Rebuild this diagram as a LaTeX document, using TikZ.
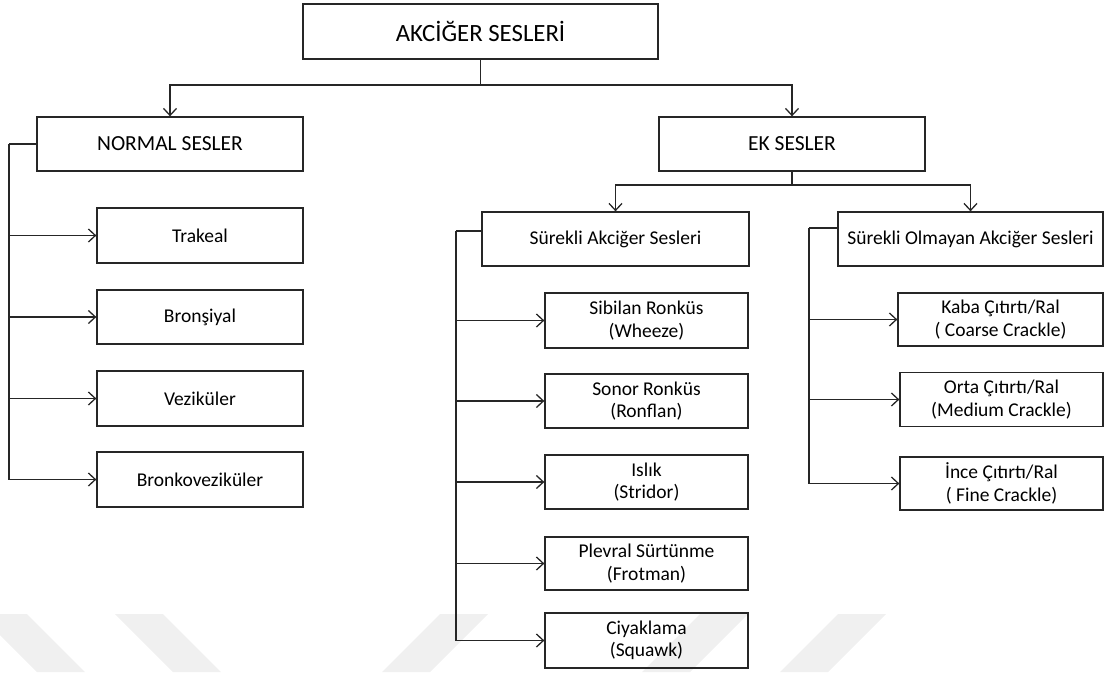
\documentclass[tikz,border=0pt]{standalone}
\usepackage{fontspec}
\setmainfont{Carlito}
\usetikzlibrary{arrows.meta}
\begin{document}
\begin{tikzpicture}[x=1pt,y=-1pt,
  box/.style={draw=black!85,line width=1.3pt,inner sep=0pt,align=center,
    font=\fontsize{19.5}{22.5}\selectfont},
  conn/.style={draw=black!85,line width=1.5pt},
  arr/.style={conn,-{Straight Barb[length=7pt,width=13pt,line width=1.3pt]}},
  wm/.style={fill=black!6,draw=none}]
\useasboundingbox (0,0) rectangle (1105,672);
% faint watermark
\fill[wm] (-21,614) -- (27,614) -- (85,672) -- (37,672) -- cycle;
\fill[wm] (115,614) -- (163,614) -- (221,672) -- (173,672) -- cycle;
\fill[wm] (440,614) -- (488,614) -- (430,672) -- (382,672) -- cycle;
\fill[wm] (700,614) -- (748,614) -- (690,672) -- (642,672) -- cycle;
\fill[wm] (838,614) -- (886,614) -- (828,672) -- (780,672) -- cycle;

% nodes
\node[box,minimum width=355pt,minimum height=55pt,font=\fontsize{24.8}{29}\selectfont] (root) at (480.5,31.5) {AKCİĞER SESLERİ};
\node[box,minimum width=266pt,minimum height=54pt,font=\fontsize{21.5}{25}\selectfont] (normal) at (170,144) {NORMAL SESLER};
\node[box,minimum width=266pt,minimum height=54pt,font=\fontsize{21.5}{25}\selectfont] (ek) at (792,144) {EK SESLER};

\node[box,minimum width=206pt,minimum height=55pt] (trakeal) at (200,235.5) {Trakeal};
\node[box,minimum width=206pt,minimum height=54pt] (bronsiyal) at (200,317) {Bronşiyal};
\node[box,minimum width=206pt,minimum height=55pt] (vezikuler) at (200,398.5) {Veziküler};
\node[box,minimum width=206pt,minimum height=55pt] (bronkovez) at (200,479.5) {Bronkoveziküler};

\node[box,minimum width=267pt,minimum height=54pt] (surekli) at (615.5,239) {Sürekli Akciğer Sesleri};
\node[box,minimum width=265pt,minimum height=54pt] (olmayan) at (970.5,239) {Sürekli Olmayan Akciğer Sesleri};

\node[box,minimum width=203pt,minimum height=55pt] (sibilan) at (646.5,320.5) {Sibilan Ronküs\\(Wheeze)};
\node[box,minimum width=203pt,minimum height=54pt] (sonor) at (646.5,401) {Sonor Ronküs\\(Ronflan)};
\node[box,minimum width=203pt,minimum height=54pt] (islik) at (646.5,482) {Islık\\(Stridor)};
\node[box,minimum width=203pt,minimum height=53pt] (plevral) at (646.5,563.5) {Plevral Sürtünme\\(Frotman)};
\node[box,minimum width=203pt,minimum height=55pt] (ciyak) at (646.5,640.5) {Ciyaklama\\(Squawk)};

\node[box,minimum width=205pt,minimum height=53pt] (kaba) at (1000.5,319.5) {Kaba Çıtırtı/Ral\\( Coarse Crackle)};
\node[box,minimum width=203pt,minimum height=54pt] (orta) at (1001.5,399.5) {Orta Çıtırtı/Ral\\(Medium Crackle)};
\node[box,minimum width=203pt,minimum height=53pt] (ince) at (1001.5,483.5) {İnce Çıtırtı/Ral\\( Fine Crackle)};

% junction coordinates
\coordinate (jroot) at (480.5,85);
\coordinate (jek) at (792,185);
\coordinate (bn) at (9,144);
\coordinate (bs) at (456,231);
\coordinate (bo) at (809,228);

% root connectors
\draw[arr] (root.south) -- (jroot) -| (normal.north);
\draw[arr] (jroot) -| (ek.north);
% ek connectors
\draw[arr] (ek.south) -- (jek) -| (surekli.north);
\draw[arr] (jek) -| (olmayan.north);
% normal children
\draw[conn] (normal.west) -- (bn);
\foreach \c in {trakeal,bronsiyal,vezikuler,bronkovez}
  \draw[arr] (bn) |- (\c.west);
% surekli children
\draw[conn] (surekli.west |- bs) -- (bs);
\foreach \c in {sibilan,sonor,islik,plevral,ciyak}
  \draw[arr] (bs) |- (\c.west);
% olmayan children
\draw[conn] (olmayan.west |- bo) -- (bo);
\foreach \c in {kaba,orta,ince}
  \draw[arr] (bo) |- (\c.west);
\end{tikzpicture}
\end{document}
